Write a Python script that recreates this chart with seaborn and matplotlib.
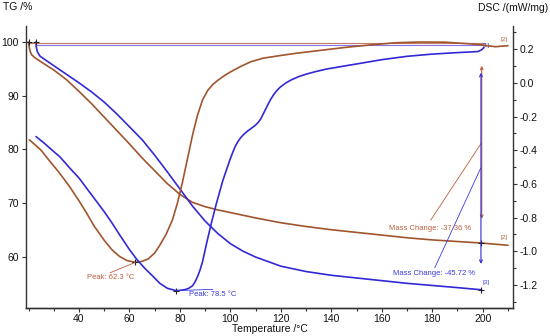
import numpy as np
import pandas as pd
import seaborn as sns
import matplotlib.pyplot as plt
from matplotlib.ticker import MultipleLocator

# TG curves (left axis, %)
tg_brown_t = [20.0, 20.3, 20.7, 21.3, 22.5, 25, 30, 35, 40, 45, 50, 55, 60, 65, 70, 75, 80, 85,
              90, 95, 100, 110, 120, 130, 140, 150, 160, 170, 180, 190, 200, 210]
tg_brown = [100.0, 99.0, 98.2, 97.6, 97.1, 96.3, 94.8, 93.0, 90.8, 88.5, 86.0, 83.5, 81.0, 78.4,
            76.0, 73.6, 71.6, 70.1, 69.3, 68.7, 68.2, 67.2, 66.3, 65.6, 65.0, 64.5, 64.0, 63.5,
            63.1, 62.8, 62.5, 62.1]

tg_blue_t = [22.9, 23.1, 23.5, 24.5, 26, 30, 35, 40, 45, 50, 55, 60, 65, 70, 75, 80, 85, 90, 95,
             100, 105, 110, 120, 130, 140, 150, 160, 170, 180, 190, 199.5]
tg_blue = [100.0, 99.0, 98.2, 97.4, 96.9, 95.6, 94.0, 92.4, 90.7, 88.8, 86.6, 84.2, 81.8, 78.9,
           75.8, 72.6, 69.4, 66.6, 64.3, 62.4, 61.0, 59.9, 58.2, 57.2, 56.5, 56.0, 55.5, 55.0,
           54.6, 54.2, 53.8]

# DSC curves (right axis, mW/mg)
dsc_brown_t = [20.3, 22, 25, 28, 32, 36, 40, 43, 46, 50, 53, 56, 59, 62.3, 65, 67.5, 70, 72,
               74.5, 77, 79, 81, 83, 85, 87, 89, 91, 93, 95, 97.5, 100, 104, 108, 113, 120, 126,
               135, 145, 155, 165, 175, 185, 195, 200, 205, 210]
dsc_brown = [-0.338, -0.36, -0.40, -0.457, -0.53, -0.61, -0.70, -0.773, -0.85, -0.935, -0.99,
             -1.03, -1.055, -1.066, -1.06, -1.045, -1.01, -0.965, -0.90, -0.815, -0.715, -0.59,
             -0.45, -0.31, -0.19, -0.10, -0.045, -0.01, 0.015, 0.042, 0.065, 0.097, 0.125,
             0.147, 0.163, 0.176, 0.192, 0.210, 0.225, 0.238, 0.243, 0.242, 0.232, 0.225,
             0.215, 0.221]

dsc_blue_t = [23, 26, 29, 32.5, 36, 40, 43, 46, 50, 53, 56, 60, 63, 66, 69.4, 72, 75, 78.5, 80,
              82, 83.5, 85, 86, 87, 88, 89, 90.6, 92.5, 94.5, 97, 99.8, 101, 102, 103, 104, 105,
              106, 107, 108, 109, 110, 111, 112, 113, 114, 115, 116, 117, 118, 119, 120, 122,
              124, 127, 130, 134, 138, 145, 151, 160, 170, 180, 190, 198, 199.5, 200.5]
dsc_blue = [-0.319, -0.355, -0.395, -0.44, -0.50, -0.565, -0.625, -0.685, -0.765, -0.83, -0.90,
            -0.99, -1.05, -1.10, -1.15, -1.19, -1.22, -1.234, -1.232, -1.228, -1.22, -1.205,
            -1.182, -1.15, -1.11, -1.06, -0.951, -0.83, -0.714, -0.58, -0.457, -0.41, -0.375,
            -0.348, -0.327, -0.31, -0.296, -0.284, -0.273, -0.262, -0.25, -0.235, -0.215,
            -0.185, -0.155, -0.125, -0.097, -0.073, -0.053, -0.036, -0.022, 0.0, 0.017, 0.037,
            0.052, 0.068, 0.082, 0.100, 0.115, 0.138, 0.158, 0.171, 0.180, 0.186, 0.196, 0.21]

x_ticks = [40, 60, 80, 100, 120, 140, 160, 180, 200]
tg_ticks = [60, 70, 80, 90, 100]
dsc_ticks = [-1.2, -1.0, -0.8, -0.6, -0.4, -0.2, 0.0, 0.2]

BROWN = "#a0552c"
BLUE = "#3328d6"
BROWN_TXT = "#b8603c"
BLUE_TXT = "#3a3ae0"

sns.set_style("white")
plt.rcParams['font.family'] = ['Liberation Sans', 'DejaVu Sans']

fig = plt.figure(figsize=(5.5, 3.36), dpi=100)
ax = fig.add_axes([26 / 550, 1 - 308 / 336, 487 / 550, 282 / 336])
ax2 = ax.twinx()

sns.lineplot(x=tg_brown_t, y=tg_brown, ax=ax, color=BROWN, lw=1.2, sort=False)
sns.lineplot(x=tg_blue_t, y=tg_blue, ax=ax, color=BLUE, lw=1.2, sort=False)
sns.lineplot(x=dsc_brown_t, y=dsc_brown, ax=ax2, color=BROWN, lw=1.2, sort=False)
sns.lineplot(x=dsc_blue_t, y=dsc_blue, ax=ax2, color=BLUE, lw=1.2, sort=False)

ax.set_xlim(19, 212)
ax.set_ylim(50.4, 103)
ax2.set_ylim(-1.337, 0.338)

# reference lines at the start mass
ax.plot([20, 200.5], [99.87, 99.87], color="#c07a6a", lw=0.8)
ax.plot([22.9, 201.5], [99.44, 99.44], color="#8a72e6", lw=0.8)

# start / end markers
ax.plot([20.0, 22.9, 199.5, 199.5], [100.0, 100.0, 62.5, 53.8], ls="none", marker="+",
        ms=5, mew=0.8, color="#222222")
ax2.plot([62.3, 78.5], [-1.066, -1.234], ls="none", marker="+", ms=5, mew=0.8, color="#222222")

# mass change arrows
ax.annotate("", xy=(199.6, 96.1), xytext=(199.6, 66.5),
            arrowprops=dict(arrowstyle="<->", color=BROWN_TXT, lw=0.8, mutation_scale=5))
ax.annotate("", xy=(199.3, 94.8), xytext=(199.3, 58.1),
            arrowprops=dict(arrowstyle="<->", color=BLUE, lw=0.8, mutation_scale=5))
ax.plot([179.4, 199.5], [66.8, 81.2], color=BROWN_TXT, lw=0.6)
ax.plot([181.0, 199.2], [57.9, 76.5], color=BLUE_TXT, lw=0.6)
ax.text(179.1, 65.2, "Mass Change: -37.36 %", color=BROWN_TXT, fontsize=5.5,
        ha="center", va="center")
ax.text(180.8, 56.9, "Mass Change: -45.72 %", color=BLUE_TXT, fontsize=5.5,
        ha="center", va="center")

# peak labels
ax2.plot([52.3, 62.3], [-1.128, -1.066], color=BROWN_TXT, lw=0.6)
ax2.text(52.7, -1.157, "Peak: 62.3 °C", color=BROWN_TXT, fontsize=5.5, ha="center", va="center")
ax2.plot([78.5, 93.1], [-1.234, -1.226], color=BLUE_TXT, lw=0.6)
ax2.text(93.1, -1.254, "Peak: 78.5 °C", color=BLUE_TXT, fontsize=5.5, ha="center", va="center")

# curve index labels
ax.text(201.2, 99.44, "[1]", color=BLUE_TXT, fontsize=4.5, ha="center", va="center")
ax.text(208.3, 100.56, "[2]", color=BROWN_TXT, fontsize=4.5, ha="center", va="center")
ax.text(208.3, 63.5, "[2]", color=BROWN_TXT, fontsize=4.5, ha="center", va="center")
ax.text(201.2, 55.1, "[3]", color=BLUE_TXT, fontsize=4.5, ha="center", va="center")

# axes styling
ax.set_xticks(x_ticks)
ax.xaxis.set_minor_locator(MultipleLocator(10))
ax.set_yticks(tg_ticks)
ax2.set_yticks(dsc_ticks)
ax2.set_yticklabels([f"{v:.1f}" for v in dsc_ticks])
ax2.yaxis.set_minor_locator(MultipleLocator(0.1))

for a in (ax, ax2):
    a.spines["top"].set_visible(False)
    for s in ("left", "right", "bottom"):
        a.spines[s].set_color("#333333")
        a.spines[s].set_linewidth(1.0)
    a.tick_params(which="both", direction="out", length=3, width=0.8, color="#333333",
                  labelsize=7.5, labelcolor="#111111", pad=2)
    a.tick_params(which="minor", length=2)
    a.set_xlabel("")
    a.set_ylabel("")
ax.spines["right"].set_visible(False)
ax2.spines["left"].set_visible(False)
ax.tick_params(axis="y", which="both", left=True, right=False)
ax.tick_params(axis="x", which="both", bottom=True, pad=1)
ax2.tick_params(axis="y", which="both", right=True, left=False)

fig.text(3 / 550, 1 - 7 / 336, "TG /%", fontsize=7.5, ha="left", va="center", color="#111111")
fig.text(548 / 550, 1 - 8 / 336, "DSC /(mW/mg)", fontsize=7.5, ha="right", va="center",
         color="#111111")
fig.text(270 / 550, 1 - 329 / 336, "Temperature /°C", fontsize=7.5, ha="center", va="center",
         color="#111111")

fig.savefig("out.png", dpi=100)
